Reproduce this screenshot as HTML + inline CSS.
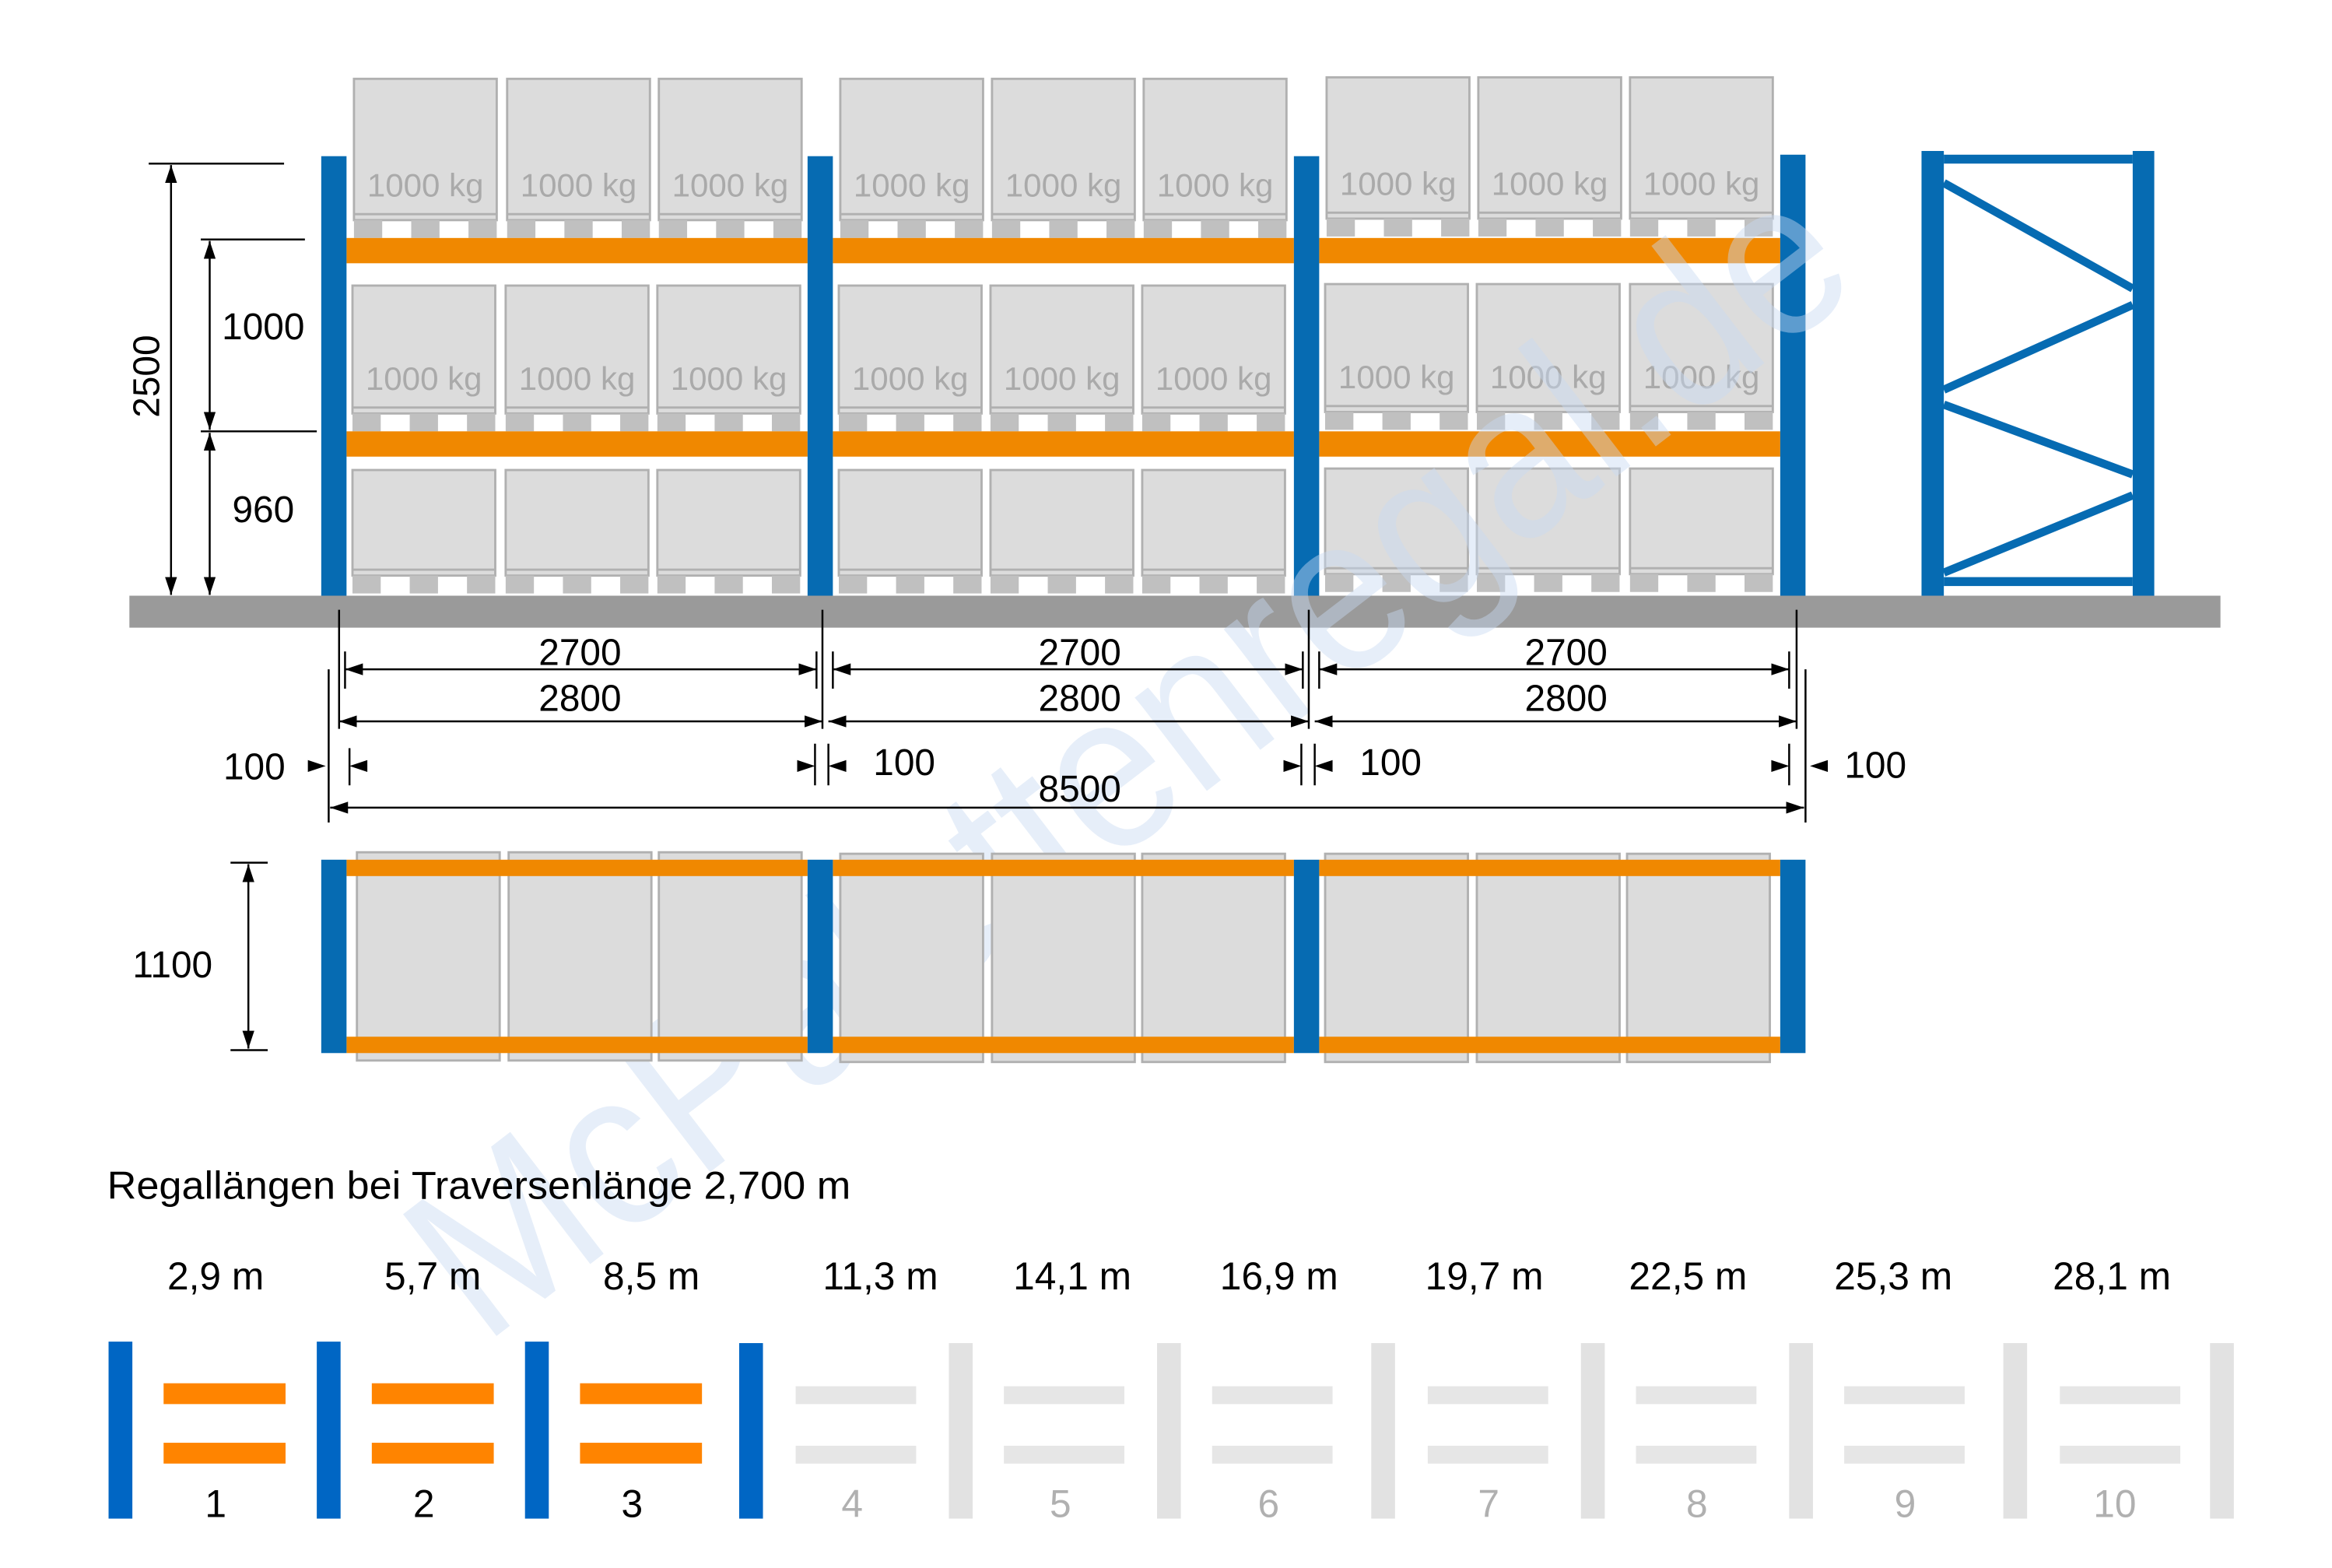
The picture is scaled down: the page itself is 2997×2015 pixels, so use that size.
<!DOCTYPE html>
<html><head><meta charset="utf-8"><style>
html,body{margin:0;padding:0;background:#fff}
svg{display:block}
text{font-family:"Liberation Sans Narrow","Liberation Sans",sans-serif}
</style></head><body>
<svg width="2997" height="2015" viewBox="0 0 1568 1054.2" preserveAspectRatio="none" xmlns="http://www.w3.org/2000/svg">
<defs>
<marker id="ar" viewBox="0 0 12 8" refX="12" refY="4" markerWidth="12" markerHeight="8" markerUnits="userSpaceOnUse" orient="auto-start-reverse"><path d="M0,0L12,4L0,8z" fill="#000"/></marker>
<g id="feet"><rect x="0" y="0" width="19" height="12" fill="#c0c0c0"/><rect x="38.5" y="0" width="19" height="12" fill="#c0c0c0"/><rect x="77" y="0" width="19" height="12" fill="#c0c0c0"/></g>
<g id="pT"><rect x="0" y="0" width="96" height="95" fill="#dcdcdc" stroke="#b0b0b0" stroke-width="1.5"/><line x1="0" y1="91" x2="96" y2="91" stroke="#b0b0b0" stroke-width="1.5"/><use href="#feet" y="95"/></g>
<g id="pM"><rect x="0" y="0" width="96" height="86" fill="#dcdcdc" stroke="#b0b0b0" stroke-width="1.5"/><line x1="0" y1="82" x2="96" y2="82" stroke="#b0b0b0" stroke-width="1.5"/><use href="#feet" y="86"/></g>
<g id="pB"><rect x="0" y="0" width="96" height="71" fill="#dcdcdc" stroke="#b0b0b0" stroke-width="1.5"/><line x1="0" y1="67" x2="96" y2="67" stroke="#b0b0b0" stroke-width="1.5"/><use href="#feet" y="71"/></g>
<rect id="pp" x="0" y="0" width="96" height="140" fill="#dcdcdc" stroke="#b0b0b0" stroke-width="1.5"/>
</defs>

<g>
<use href="#pT" x="238" y="53"/><use href="#pT" x="341" y="53"/><use href="#pT" x="443" y="53"/>
<use href="#pT" x="565" y="53"/><use href="#pT" x="667" y="53"/><use href="#pT" x="769" y="53"/>
<use href="#pT" x="892" y="52"/><use href="#pT" x="994" y="52"/><use href="#pT" x="1096" y="52"/>
<use href="#pM" x="237" y="192"/><use href="#pM" x="340" y="192"/><use href="#pM" x="442" y="192"/>
<use href="#pM" x="564" y="192"/><use href="#pM" x="666" y="192"/><use href="#pM" x="768" y="192"/>
<use href="#pM" x="891" y="191"/><use href="#pM" x="993" y="191"/><use href="#pM" x="1096" y="191"/>
<use href="#pB" x="237" y="316"/><use href="#pB" x="340" y="316"/><use href="#pB" x="442" y="316"/>
<use href="#pB" x="564" y="316"/><use href="#pB" x="666" y="316"/><use href="#pB" x="768" y="316"/>
<use href="#pB" x="891" y="315"/><use href="#pB" x="993" y="315"/><use href="#pB" x="1096" y="315"/>
</g>
<g font-size="22" fill="#aaaaaa" text-anchor="middle" style="font-family:'Liberation Sans',sans-serif">
<text x="286" y="132">1000 kg</text><text x="389" y="132">1000 kg</text><text x="491" y="132">1000 kg</text>
<text x="613" y="132">1000 kg</text><text x="715" y="132">1000 kg</text><text x="817" y="132">1000 kg</text>
<text x="940" y="131">1000 kg</text><text x="1042" y="131">1000 kg</text><text x="1144" y="131">1000 kg</text>
<text x="285" y="262">1000 kg</text><text x="388" y="262">1000 kg</text><text x="490" y="262">1000 kg</text>
<text x="612" y="262">1000 kg</text><text x="714" y="262">1000 kg</text><text x="816" y="262">1000 kg</text>
<text x="939" y="261">1000 kg</text><text x="1041" y="261">1000 kg</text><text x="1144" y="261">1000 kg</text>
</g>

<g fill="#f08800">
<rect x="233" y="160" width="310" height="17"/><rect x="560" y="160" width="310" height="17"/><rect x="887" y="160" width="310" height="17"/>
<rect x="233" y="290" width="310" height="17"/><rect x="560" y="290" width="310" height="17"/><rect x="887" y="290" width="310" height="17"/>
</g>
<g fill="#066bb2">
<rect x="216" y="105" width="17" height="296"/><rect x="543" y="105" width="17" height="296"/><rect x="870" y="105" width="17" height="296"/><rect x="1197" y="104" width="17" height="297"/>
</g>
<rect x="87" y="400.5" width="1406" height="21.5" fill="#9a9a9a"/>

<g fill="#066bb2">
<rect x="1292" y="101.5" width="15" height="299"/><rect x="1434" y="101.5" width="14.5" height="299"/>
<rect x="1307" y="104" width="127" height="6"/><rect x="1307" y="388" width="127" height="6"/>
</g>
<g stroke="#066bb2" stroke-width="5.5">
<line x1="1307" y1="123" x2="1434" y2="194"/>
<line x1="1434" y1="205" x2="1307" y2="262"/>
<line x1="1307" y1="272" x2="1434" y2="319"/>
<line x1="1434" y1="333" x2="1307" y2="385"/>
</g>

<text x="0" y="0" font-size="150" fill="#c8daf2" fill-opacity="0.45" transform="translate(325,905) rotate(-37.5)" textLength="1170" lengthAdjust="spacingAndGlyphs" style="font-family:'Liberation Sans',sans-serif">McPalettenregal.de</text>

<g stroke="#000" stroke-width="1.3" fill="none">
<line x1="100" y1="110" x2="191" y2="110"/>
<line x1="135" y1="161" x2="205" y2="161"/>
<line x1="135" y1="290" x2="213" y2="290"/>
<line x1="115" y1="111" x2="115" y2="400" marker-start="url(#ar)" marker-end="url(#ar)"/>
<line x1="141" y1="162" x2="141" y2="289" marker-start="url(#ar)" marker-end="url(#ar)"/>
<line x1="141" y1="291" x2="141" y2="400" marker-start="url(#ar)" marker-end="url(#ar)"/>
</g>
<g font-size="25" fill="#000">
<text x="0" y="0" transform="translate(107,253) rotate(-90)" text-anchor="middle">2500</text>
<text x="177" y="228" text-anchor="middle">1000</text>
<text x="177" y="351" text-anchor="middle">960</text>
</g>

<g stroke="#000" stroke-width="1.3" fill="none">
<line x1="228" y1="410" x2="228" y2="490"/><line x1="553" y1="410" x2="553" y2="490"/><line x1="880" y1="410" x2="880" y2="490"/><line x1="1208" y1="410" x2="1208" y2="490"/>
<line x1="232" y1="438" x2="232" y2="463"/><line x1="560" y1="438" x2="560" y2="463"/><line x1="887" y1="438" x2="887" y2="463"/>
<line x1="1203" y1="438" x2="1203" y2="463"/><line x1="549" y1="438" x2="549" y2="463"/><line x1="876" y1="438" x2="876" y2="463"/>
<line x1="232" y1="450" x2="549" y2="450" marker-start="url(#ar)" marker-end="url(#ar)"/>
<line x1="560" y1="450" x2="876" y2="450" marker-start="url(#ar)" marker-end="url(#ar)"/>
<line x1="887" y1="450" x2="1203" y2="450" marker-start="url(#ar)" marker-end="url(#ar)"/>
<line x1="228" y1="485" x2="553" y2="485" marker-start="url(#ar)" marker-end="url(#ar)"/>
<line x1="557" y1="485" x2="880" y2="485" marker-start="url(#ar)" marker-end="url(#ar)"/>
<line x1="884" y1="485" x2="1208" y2="485" marker-start="url(#ar)" marker-end="url(#ar)"/>
<line x1="221" y1="450" x2="221" y2="553"/><line x1="1214" y1="450" x2="1214" y2="553"/>
<line x1="235" y1="503" x2="235" y2="528"/><line x1="548" y1="500" x2="548" y2="528"/><line x1="557" y1="500" x2="557" y2="528"/>
<line x1="875" y1="500" x2="875" y2="528"/><line x1="884" y1="500" x2="884" y2="528"/><line x1="1203" y1="500" x2="1203" y2="528"/>
<line x1="222" y1="543" x2="1213" y2="543" marker-start="url(#ar)" marker-end="url(#ar)"/>
</g>
<g fill="#000">
<path d="M207,511L219,515L207,519z"/><path d="M247,511L235,515L247,519z"/>
<path d="M536,511L548,515L536,519z"/><path d="M569,511L557,515L569,519z"/>
<path d="M863,511L875,515L863,519z"/><path d="M896,511L884,515L896,519z"/>
<path d="M1191,511L1203,515L1191,519z"/><path d="M1229,511L1217,515L1229,519z"/>
</g>
<g font-size="25" fill="#000" text-anchor="middle">
<text x="390" y="447">2700</text><text x="726" y="447">2700</text><text x="1053" y="447">2700</text>
<text x="390" y="478">2800</text><text x="726" y="478">2800</text><text x="1053" y="478">2800</text>
<text x="726" y="539">8500</text>
<text x="171" y="524">100</text><text x="608" y="521">100</text><text x="935" y="521">100</text><text x="1261" y="523">100</text>
</g>

<g>
<use href="#pp" x="240" y="573"/><use href="#pp" x="342" y="573"/><use href="#pp" x="443" y="573"/>
<use href="#pp" x="565" y="574"/><use href="#pp" x="667" y="574"/><use href="#pp" x="768" y="574"/>
<use href="#pp" x="891" y="574"/><use href="#pp" x="993" y="574"/><use href="#pp" x="1094" y="574"/>
</g>
<g fill="#f08800">
<rect x="233" y="578" width="310" height="11"/><rect x="560" y="578" width="310" height="11"/><rect x="887" y="578" width="310" height="11"/>
<rect x="233" y="697" width="310" height="11"/><rect x="560" y="697" width="310" height="11"/><rect x="887" y="697" width="310" height="11"/>
</g>
<g fill="#066bb2">
<rect x="216" y="578" width="17" height="130"/><rect x="543" y="578" width="17" height="130"/><rect x="870" y="578" width="17" height="130"/><rect x="1197" y="578" width="17" height="130"/>
</g>
<g stroke="#000" stroke-width="1.3">
<line x1="155" y1="580" x2="180" y2="580"/><line x1="155" y1="706" x2="180" y2="706"/>
<line x1="167" y1="581" x2="167" y2="705" marker-start="url(#ar)" marker-end="url(#ar)"/>
</g>
<text x="116" y="657" font-size="25" text-anchor="middle">1100</text>

<text x="72" y="806" font-size="26" textLength="500" lengthAdjust="spacingAndGlyphs">Regallängen bei Traversenlänge 2,700 m</text>
<g font-size="26" text-anchor="middle" fill="#000">
<text x="145" y="867">2,9 m</text><text x="291" y="867">5,7 m</text><text x="438" y="867">8,5 m</text><text x="592" y="867">11,3 m</text>
<text x="721" y="867">14,1 m</text><text x="860" y="867">16,9 m</text><text x="998" y="867">19,7 m</text><text x="1135" y="867">22,5 m</text>
<text x="1273" y="867">25,3 m</text><text x="1420" y="867">28,1 m</text>
</g>
<g fill="#0066c4">
<rect x="73" y="902" width="16" height="119"/><rect x="213" y="902" width="16" height="119"/><rect x="353" y="902" width="16" height="119"/><rect x="497" y="903" width="16" height="118"/>
</g>
<g fill="#e2e2e2">
<rect x="638" y="903" width="16" height="118"/><rect x="778" y="903" width="16" height="118"/><rect x="922" y="903" width="16" height="118"/>
<rect x="1063" y="903" width="16" height="118"/><rect x="1203" y="903" width="16" height="118"/><rect x="1347" y="903" width="16" height="118"/><rect x="1486" y="903" width="16" height="118"/>
</g>
<g fill="#ff8400">
<rect x="110" y="930" width="82" height="14"/><rect x="110" y="970" width="82" height="14"/>
<rect x="250" y="930" width="82" height="14"/><rect x="250" y="970" width="82" height="14"/>
<rect x="390" y="930" width="82" height="14"/><rect x="390" y="970" width="82" height="14"/>
</g>
<g fill="#e6e6e6">
<rect x="535" y="932" width="81" height="12"/><rect x="535" y="972" width="81" height="12"/>
<rect x="675" y="932" width="81" height="12"/><rect x="675" y="972" width="81" height="12"/>
<rect x="815" y="932" width="81" height="12"/><rect x="815" y="972" width="81" height="12"/>
<rect x="960" y="932" width="81" height="12"/><rect x="960" y="972" width="81" height="12"/>
<rect x="1100" y="932" width="81" height="12"/><rect x="1100" y="972" width="81" height="12"/>
<rect x="1240" y="932" width="81" height="12"/><rect x="1240" y="972" width="81" height="12"/>
<rect x="1385" y="932" width="81" height="12"/><rect x="1385" y="972" width="81" height="12"/>
</g>
<g font-size="26" text-anchor="middle">
<text x="145" y="1020" fill="#000">1</text><text x="285" y="1020" fill="#000">2</text><text x="425" y="1020" fill="#000">3</text>
<text x="573" y="1020" fill="#b0b0b0">4</text><text x="713" y="1020" fill="#b0b0b0">5</text><text x="853" y="1020" fill="#b0b0b0">6</text>
<text x="1001" y="1020" fill="#b0b0b0">7</text><text x="1141" y="1020" fill="#b0b0b0">8</text><text x="1281" y="1020" fill="#b0b0b0">9</text><text x="1422" y="1020" fill="#b0b0b0">10</text>
</g>
</svg>
</body></html>
